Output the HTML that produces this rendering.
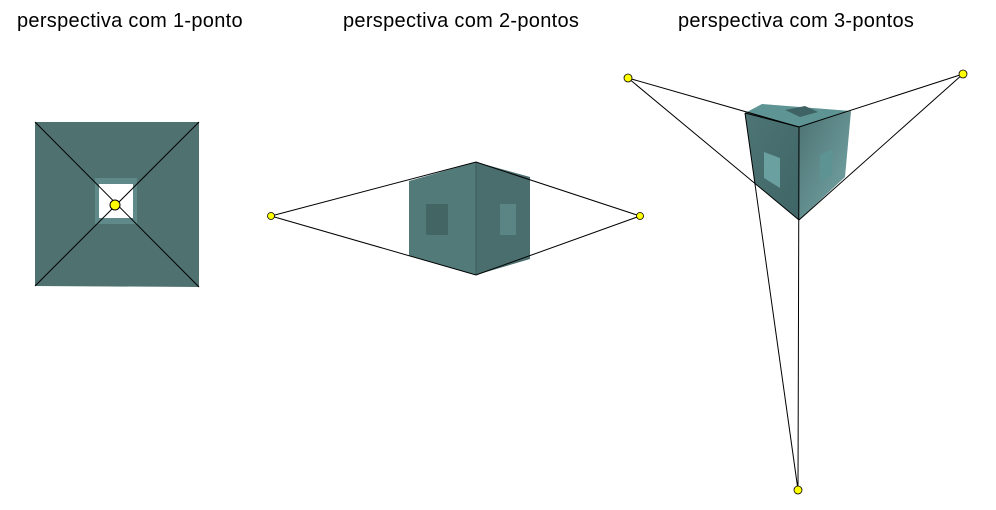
<!DOCTYPE html>
<html><head><meta charset="utf-8"><style>
html,body{margin:0;padding:0;background:#fff;width:996px;height:510px;overflow:hidden}
svg{display:block}
text{font-family:"Liberation Sans",sans-serif;font-size:20px;letter-spacing:0.3px;fill:#000}
</style></head><body>
<svg width="996" height="510" viewBox="0 0 996 510" xmlns="http://www.w3.org/2000/svg">
<defs>
<linearGradient id="g3r" x1="0" y1="0" x2="1" y2="1"><stop offset="0" stop-color="#4d7273"/><stop offset="1" stop-color="#77a8a8"/></linearGradient>
<linearGradient id="g3l" x1="0" y1="0" x2="1" y2="1"><stop offset="0" stop-color="#4e7575"/><stop offset="1" stop-color="#3f6566"/></linearGradient>
</defs>
<text x="17" y="27">perspectiva com 1-ponto</text>
<text x="343" y="27">perspectiva com 2-pontos</text>
<text x="678" y="27">perspectiva com 3-pontos</text>

<polygon points="35,122 199,122 199,287 35,286" fill="#4f7271"/>
<rect x="95" y="178" width="42" height="46" fill="#5f8a89"/>
<rect x="99" y="184" width="34" height="34" fill="#fff"/>
<line x1="35" y1="122" x2="199" y2="287" stroke="#000" stroke-width="1"/>
<line x1="199" y1="122" x2="35" y2="286" stroke="#000" stroke-width="1"/>
<circle cx="115" cy="205" r="5" fill="#ffff00" stroke="#000" stroke-width="1"/>

<polygon points="409,181 476,162 476,275 409,256" fill="#517a79"/>
<polygon points="476,162 530,177 530,259 476,275" fill="#4a6e6d"/>
<rect x="426" y="204" width="22" height="31" fill="#436564"/>
<rect x="500" y="204" width="16" height="31" fill="#5a8584"/>
<line x1="476" y1="162" x2="476" y2="275" stroke="#3b5a5a"/>
<polyline points="271,216 476,162 640,216 476,275 271,216" fill="none" stroke="#000" stroke-width="1"/>
<circle cx="271" cy="216" r="3.5" fill="#ffff00" stroke="#000" stroke-width="0.8"/>
<circle cx="640" cy="216" r="3.5" fill="#ffff00" stroke="#000" stroke-width="0.8"/>

<polygon points="745,113 762,104 851,111 799,127" fill="#5f9494"/>
<polygon points="785,110 805,106 818,112 800,117" fill="#3f6364"/>
<polygon points="745,113 799,127 799,220 755,183" fill="url(#g3l)"/>
<polygon points="799,127 851,111 845,177 799,220" fill="url(#g3r)"/>
<polygon points="764,152 780,158 780,188 764,178" fill="#6aa0a0"/>
<polygon points="820,155 833,149 832,175 820,182" fill="#5e9393"/>
<g stroke="#000" stroke-width="1" fill="none">
<line x1="628" y1="78" x2="799" y2="127"/>
<line x1="628" y1="78" x2="799" y2="220"/>
<line x1="963" y1="74" x2="799" y2="127"/>
<line x1="963" y1="74" x2="799" y2="220"/>
<line x1="798" y1="490" x2="745" y2="113"/>
<line x1="798" y1="490" x2="799" y2="127"/>
<line x1="745" y1="113" x2="799" y2="127"/>
</g>
<circle cx="628" cy="78" r="4" fill="#ffff00" stroke="#000" stroke-width="0.8"/>
<circle cx="963" cy="74" r="4" fill="#ffff00" stroke="#000" stroke-width="0.8"/>
<circle cx="798" cy="490" r="4" fill="#ffff00" stroke="#000" stroke-width="0.8"/>
</svg>
</body></html>
